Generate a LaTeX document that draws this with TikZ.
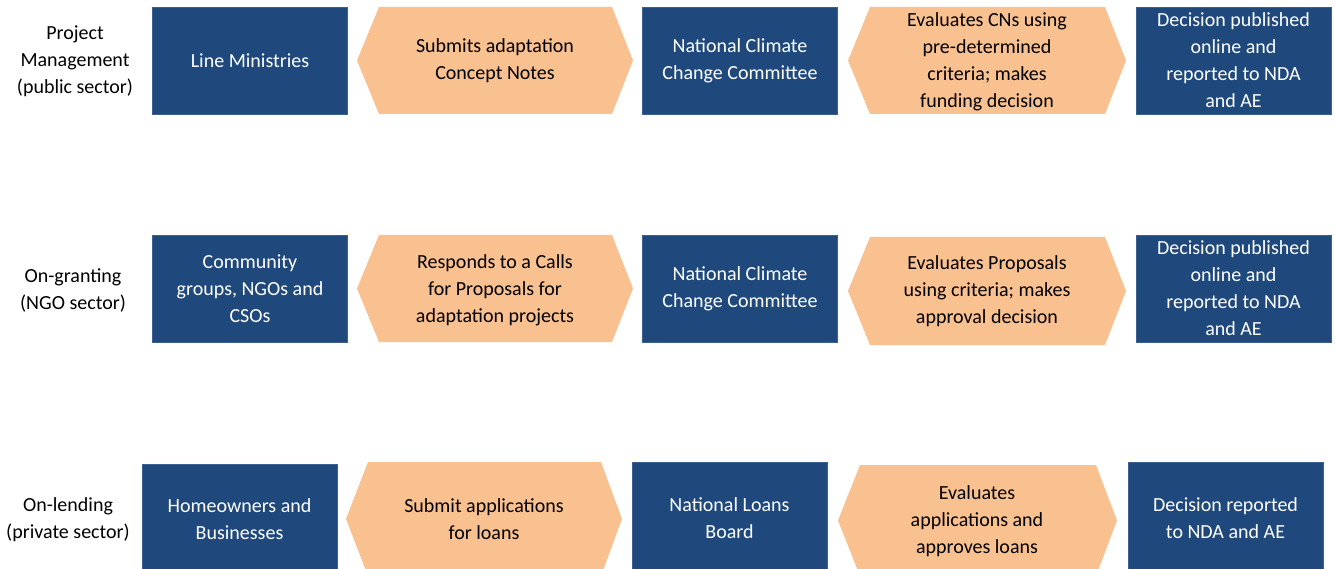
\documentclass[tikz,border=0pt]{standalone}
\usepackage{fontspec}
\setmainfont{Carlito}
\definecolor{boxblue}{RGB}{31,73,125}
\definecolor{boxedge}{RGB}{60,95,145}
\definecolor{peach}{RGB}{249,192,144}
\begin{document}
\begin{tikzpicture}[x=1pt,y=-1pt,
  every node/.style={font=\fontsize{20}{27}\selectfont, align=center, inner sep=0pt},
  bluebox/.style={fill=boxblue, draw=boxedge, line width=0.8pt, text=white,
    minimum width=195pt, minimum height=107pt},
  rowlabel/.style={text=black},
  hextext/.style={text=black}]
\useasboundingbox (0,0) rectangle (1335,569);
% hexagon shapes: \hexa{left tip x}{top}{bottom}{right tip x}
\newcommand\hexa[4]{%
  \fill[peach] (#1,{(#2+#3)/2}) -- (#1+22,#2) -- (#4-21,#2) -- (#4,{(#2+#3)/2})
    -- (#4-21,#3) -- (#1+22,#3) -- cycle;}
% ---------- Row 1 ----------
\node[rowlabel] (l1) at (75,61) {Project\\Management\\(public sector)};
\node[bluebox] (a1) at (250,60.5) {Line Ministries};
\hexa{357}{7}{114}{633}
\node[hextext] (h11) at (495,61) {Submits adaptation\\Concept Notes};
\node[bluebox] (b1) at (740,60.5) {National Climate\\Change Committee};
\hexa{848}{7}{114}{1126}
\node[hextext] (h12) at (987,61.5) {Evaluates CNs using\\pre-determined\\criteria; makes\\funding decision};
\node[bluebox] (c1) at (1233.5,60.5) {Decision published\\online and\\reported to NDA\\and AE};
% ---------- Row 2 ----------
\node[rowlabel] (l2) at (73,290.5) {On-granting\\(NGO sector)};
\node[bluebox] (a2) at (250,288.5) {Community\\groups, NGOs and\\CSOs};
\hexa{357}{235}{342}{633}
\node[hextext] (h21) at (495,290.5) {Responds to a Calls\\for Proposals for\\adaptation projects};
\node[bluebox] (b2) at (740,288.5) {National Climate\\Change Committee};
\hexa{848}{237}{345}{1126}
\node[hextext] (h22) at (987,291.5) {Evaluates Proposals\\using criteria; makes\\approval decision};
\node[bluebox] (c2) at (1233.5,288.5) {Decision published\\online and\\reported to NDA\\and AE};
% ---------- Row 3 ----------
\node[rowlabel] (l3) at (68,519.5) {On-lending\\(private sector)};
\node[bluebox, minimum height=110pt] (a3) at (239.5,519) {Homeowners and\\Businesses};
\hexa{346}{462}{576}{622}
\node[hextext] (h31) at (484,519.5) {Submit applications\\for loans};
\node[bluebox, minimum height=112pt] (b3) at (729.5,518) {National Loans\\Board};
\hexa{838}{465}{576}{1117}
\node[hextext] (h32) at (977,521) {Evaluates\\applications and\\approves loans};
\node[bluebox, minimum height=112pt] (c3) at (1225.5,518) {Decision reported\\to NDA and AE};
\end{tikzpicture}
\end{document}
